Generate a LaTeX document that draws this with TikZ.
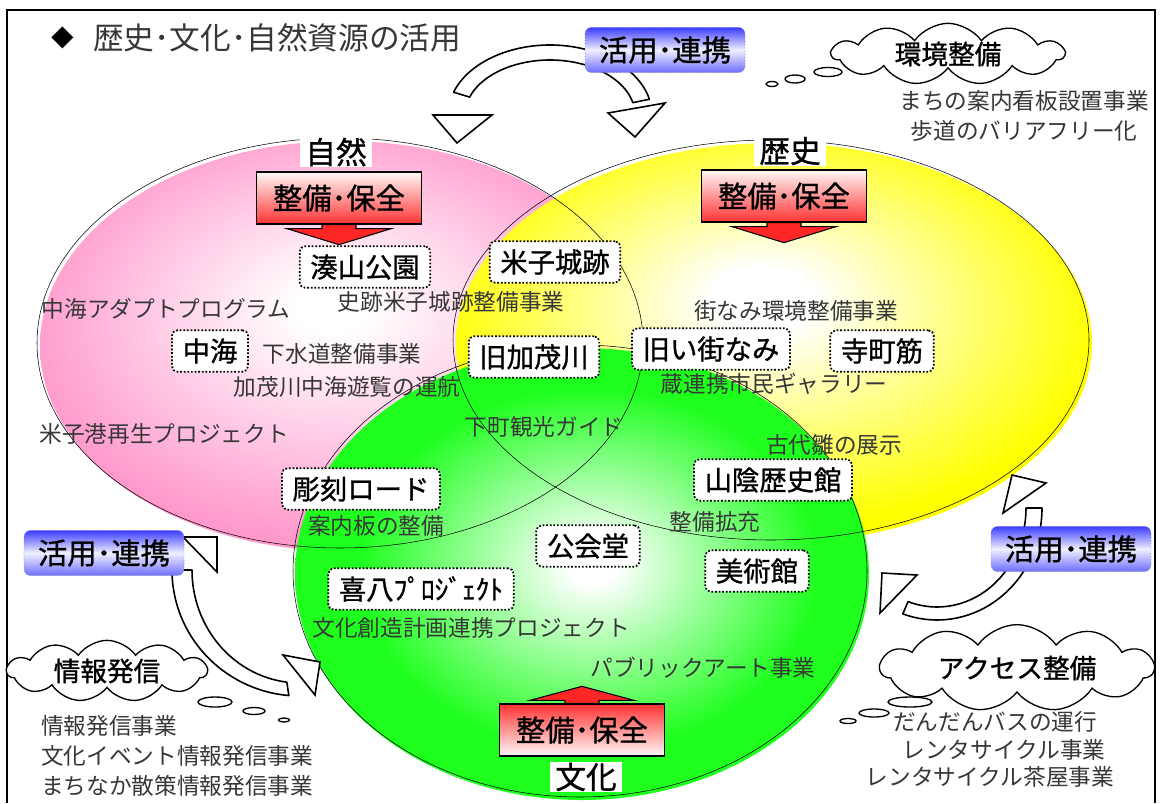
\documentclass[tikz,border=0pt]{standalone}
\usepackage{fontspec}
\setmainfont{Noto Sans CJK JP}
\newfontfamily\gothic{Noto Sans CJK JP}[FakeBold=1]
\usetikzlibrary{shapes.symbols, positioning}
\definecolor{natpink}{RGB}{255,153,204}
\definecolor{histyellow}{RGB}{255,255,0}
\definecolor{cultgreen}{RGB}{30,255,30}
\definecolor{linkblue}{RGB}{60,60,255}
\definecolor{memotext}{RGB}{55,55,55}
\pgfdeclareradialshading{natball}{\pgfpoint{-1bp}{5bp}}{color(0bp)=(white); color(3bp)=(white); color(26bp)=(natpink); color(50bp)=(natpink)}
\pgfdeclareradialshading{histball}{\pgfpoint{-1bp}{6bp}}{color(0bp)=(white); color(4bp)=(white); color(26bp)=(histyellow); color(50bp)=(histyellow)}
\pgfdeclareradialshading{cultball}{\pgfpoint{1bp}{1bp}}{color(0bp)=(white); color(2bp)=(white); color(20bp)=(cultgreen); color(50bp)=(cultgreen)}
\begin{document}
\begin{tikzpicture}[x=0.75pt, y=-0.75pt,
  memo/.style={text=memotext, font=\fontsize{17}{20}\selectfont, inner sep=0pt},
  spot/.style={draw, line width=1.3pt, dash pattern=on 1.3pt off 1.4pt, rounded corners=4pt, fill=white,
    font=\gothic\fontsize{20.5}{24}\selectfont, minimum height=31pt, inner xsep=8pt, inner ysep=0pt},
  area/.style={fill=white, font=\gothic\fontsize{23}{26}\selectfont, minimum width=54pt, minimum height=22pt, inner sep=0pt},
  keep/.style={draw, line width=1pt, font=\gothic\fontsize{22}{26}\selectfont, minimum width=124pt, minimum height=39pt, inner sep=0pt},
  link/.style={draw=black!60, dotted, rounded corners=5pt, top color=linkblue, bottom color=linkblue!75,
    middle color=linkblue!8, font=\gothic\fontsize{22}{26}\selectfont, minimum width=120pt, minimum height=34pt, inner sep=0pt},
  think/.style={cloud, cloud puffs=11, cloud puff arc=110, aspect=4, draw, line width=1pt, fill=white,
    font=\gothic\fontsize{20}{24}\selectfont, inner sep=0pt},
  bubble/.style={draw, line width=1pt, fill=white},
  band/.style={draw, line width=1.2pt, fill=white, line join=round},
  head/.style={draw, line width=1.2pt, fill=white}]
\useasboundingbox (0,0) rectangle (1162,803);
\fill[white] (0,0) rectangle (1162,803);
\draw[line width=1.5pt] (7,803) -- (7,10) -- (1155,10) -- (1155,803);

% title
\node[font=\fontsize{17}{20}\selectfont, inner sep=0pt] (mark) at (63,38) {◆};
\node[font=\fontsize{23}{26}\selectfont, text=memotext, anchor=west, inner sep=0pt] (title) at (93,38) {歴史･文化･自然資源の活用};

% three areas
\shade[shading=natball] (343,346) ellipse [x radius=303, y radius=205];
\shade[shading=histball] (774,343) ellipse [x radius=318, y radius=200];
\shade[shading=cultball] (582,574) ellipse [x radius=287, y radius=226];
\draw (340,343) ellipse [x radius=303, y radius=205];
\draw (771,340) ellipse [x radius=318, y radius=200];
\draw (580,571) ellipse [x radius=287, y radius=226];

\node[area] (nature) at (336,152) {自然};
\node[area] (history) at (790,151) {歴史};
\node[area] (culture) at (586,777) {文化};

% maintenance boxes
\node[keep, top color=red!3, bottom color=red!80] (natkeep) at (339,198) {整備･保全};
\draw[fill=red!85, line width=0.8pt] (natkeep.south) ++(-17,0) -- ++(0,4) -- ++(-35,0) -- ++(52,16) -- ++(52,-16) -- ++(-35,0) -- ++(0,-4) -- cycle;
\node[keep, top color=red!3, bottom color=red!80] (histkeep) at (784,196) {整備･保全};
\draw[fill=red!85, line width=0.8pt] (histkeep.south) ++(-17,0) -- ++(0,4) -- ++(-35,0) -- ++(52,16) -- ++(52,-16) -- ++(-35,0) -- ++(0,-4) -- cycle;
\node[keep, top color=red!80, bottom color=red!3] (cultkeep) at (582,730) {整備･保全};
\draw[fill=red!85, line width=0.8pt] (cultkeep.north) ++(-17,0) -- ++(0,-3) -- ++(-35,0) -- ++(52,-14) -- ++(52,14) -- ++(-35,0) -- ++(0,3) -- cycle;

% places
\node[spot] (minato) at (365,267) {湊山公園};
\node[spot] (castle) at (555,262) {米子城跡};
\node[spot] (nakaumi) at (210,351) {中海};
\node[spot] (kamo) at (534,357) {旧加茂川};
\node[spot] (oldtown) at (711,349) {旧い街なみ};
\node[spot] (tera) at (882,351) {寺町筋};
\node[spot] (sculpt) at (361,489) {彫刻ロード};
\node[spot] (museum) at (773,480) {山陰歴史館};
\node[spot] (hall) at (588,546) {公会堂};
\node[spot] (art) at (757,571) {美術館};
\node[spot] (kihachi) at (421,589) {喜八ﾌﾟﾛｼﾞｪｸﾄ};

% projects
\node[memo] (adapt) at (166,309) {中海アダプトプログラム};
\node[memo] (ruins) at (451,302) {史跡米子城跡整備事業};
\node[memo] (sewer) at (342,354) {下水道整備事業};
\node[memo] (cruise) at (347,387) {加茂川中海遊覧の運航};
\node[memo] (port) at (164,434) {米子港再生プロジェクト};
\node[memo] (board) at (376,526) {案内板の整備};
\node[memo] (guide) at (544,427) {下町観光ガイド};
\node[memo] (scape) at (796,311) {街なみ環境整備事業};
\node[memo] (gallery) at (774,384) {蔵連携市民ギャラリー};
\node[memo] (dolls) at (834,445) {古代雛の展示};
\node[memo] (expand) at (715,522) {整備拡充};
\node[memo] (create) at (471,628) {文化創造計画連携プロジェクト};
\node[memo] (public) at (703,668) {パブリックアート事業};

% linking arrows
\draw[band] (550,115) ++(199:102 and 70) arc[start angle=199, end angle=347, x radius=102, y radius=70]
  -- ([shift={(550,115)}]347:85 and 55) arc[start angle=347, end angle=199, x radius=85, y radius=55] -- cycle;
\draw[head] (433,115) -- (492,115) -- (457,143) -- cycle;
\draw[head] (608,113) -- (665,103) -- (635,137) -- cycle;
\draw[band] (300,570) ++(180:128 and 126) arc[start angle=180, end angle=95, x radius=128, y radius=126]
  -- ([shift={(300,570)}]97:108 and 113) arc[start angle=97, end angle=180, x radius=108, y radius=113] -- cycle;
\draw[head] (183,537) -- (217,537) -- (217,572) -- cycle;
\draw[head] (283,655) -- (320,662) -- (315,695) -- cycle;
\draw[band] (937,508) ++(0:105 and 112) arc[start angle=0, end angle=109, x radius=105, y radius=112]
  -- ([shift={(937,508)}]109:89 and 99) arc[start angle=109, end angle=0, x radius=89, y radius=99] -- cycle;
\draw[head] (1012,475) -- (1046,483) -- (1003,513) -- cycle;
\draw[head] (882,573) -- (917,575) -- (880,613) -- cycle;
\node[link] (linktop) at (665,50) {活用･連携};
\node[link] (linkleft) at (104,553) {活用･連携};
\node[link] (linkright) at (1071,549) {活用･連携};

% clouds
\node[think, minimum width=174pt, minimum height=46pt] (envcloud) at (948,54) {環境整備};
\draw[bubble] (828,72) ellipse [x radius=14, y radius=4.5];
\draw[bubble] (795,79) ellipse [x radius=10, y radius=4];
\draw[bubble] (772,84) ellipse [x radius=6, y radius=2.5];
\node[memo] (sign) at (1024,101) {まちの案内看板設置事業};
\node[memo, below=22.5pt of sign.center, anchor=center] (walk) {歩道のバリアフリー化};

\node[think, minimum width=150pt, minimum height=46pt] (infocloud) at (107,671) {情報発信};
\draw[bubble] (215,702) ellipse [x radius=17, y radius=5];
\draw[bubble] (254,711) ellipse [x radius=11, y radius=3.5];
\draw[bubble] (284,720) ellipse [x radius=5.5, y radius=2];
\node[memo, anchor=west] (info1) at (41,726) {情報発信事業};
\node[memo, below=22.5pt of info1.west, anchor=west] (info2) {文化イベント情報発信事業};
\node[memo, below=22.5pt of info2.west, anchor=west] (info3) {まちなか散策情報発信事業};

\node[think, minimum width=205pt, minimum height=50pt] (accesscloud) at (1017,668) {アクセス整備};
\draw[bubble] (910,702) ellipse [x radius=22, y radius=5];
\draw[bubble] (874,713) ellipse [x radius=15, y radius=4];
\draw[bubble] (848,721) ellipse [x radius=8, y radius=2.5];
\node[memo] (bus) at (995,722) {だんだんバスの運行};
\node[memo] (cycle) at (1004,750) {レンタサイクル事業};
\node[memo] (teahouse) at (990,777) {レンタサイクル茶屋事業};
\end{tikzpicture}
\end{document}
